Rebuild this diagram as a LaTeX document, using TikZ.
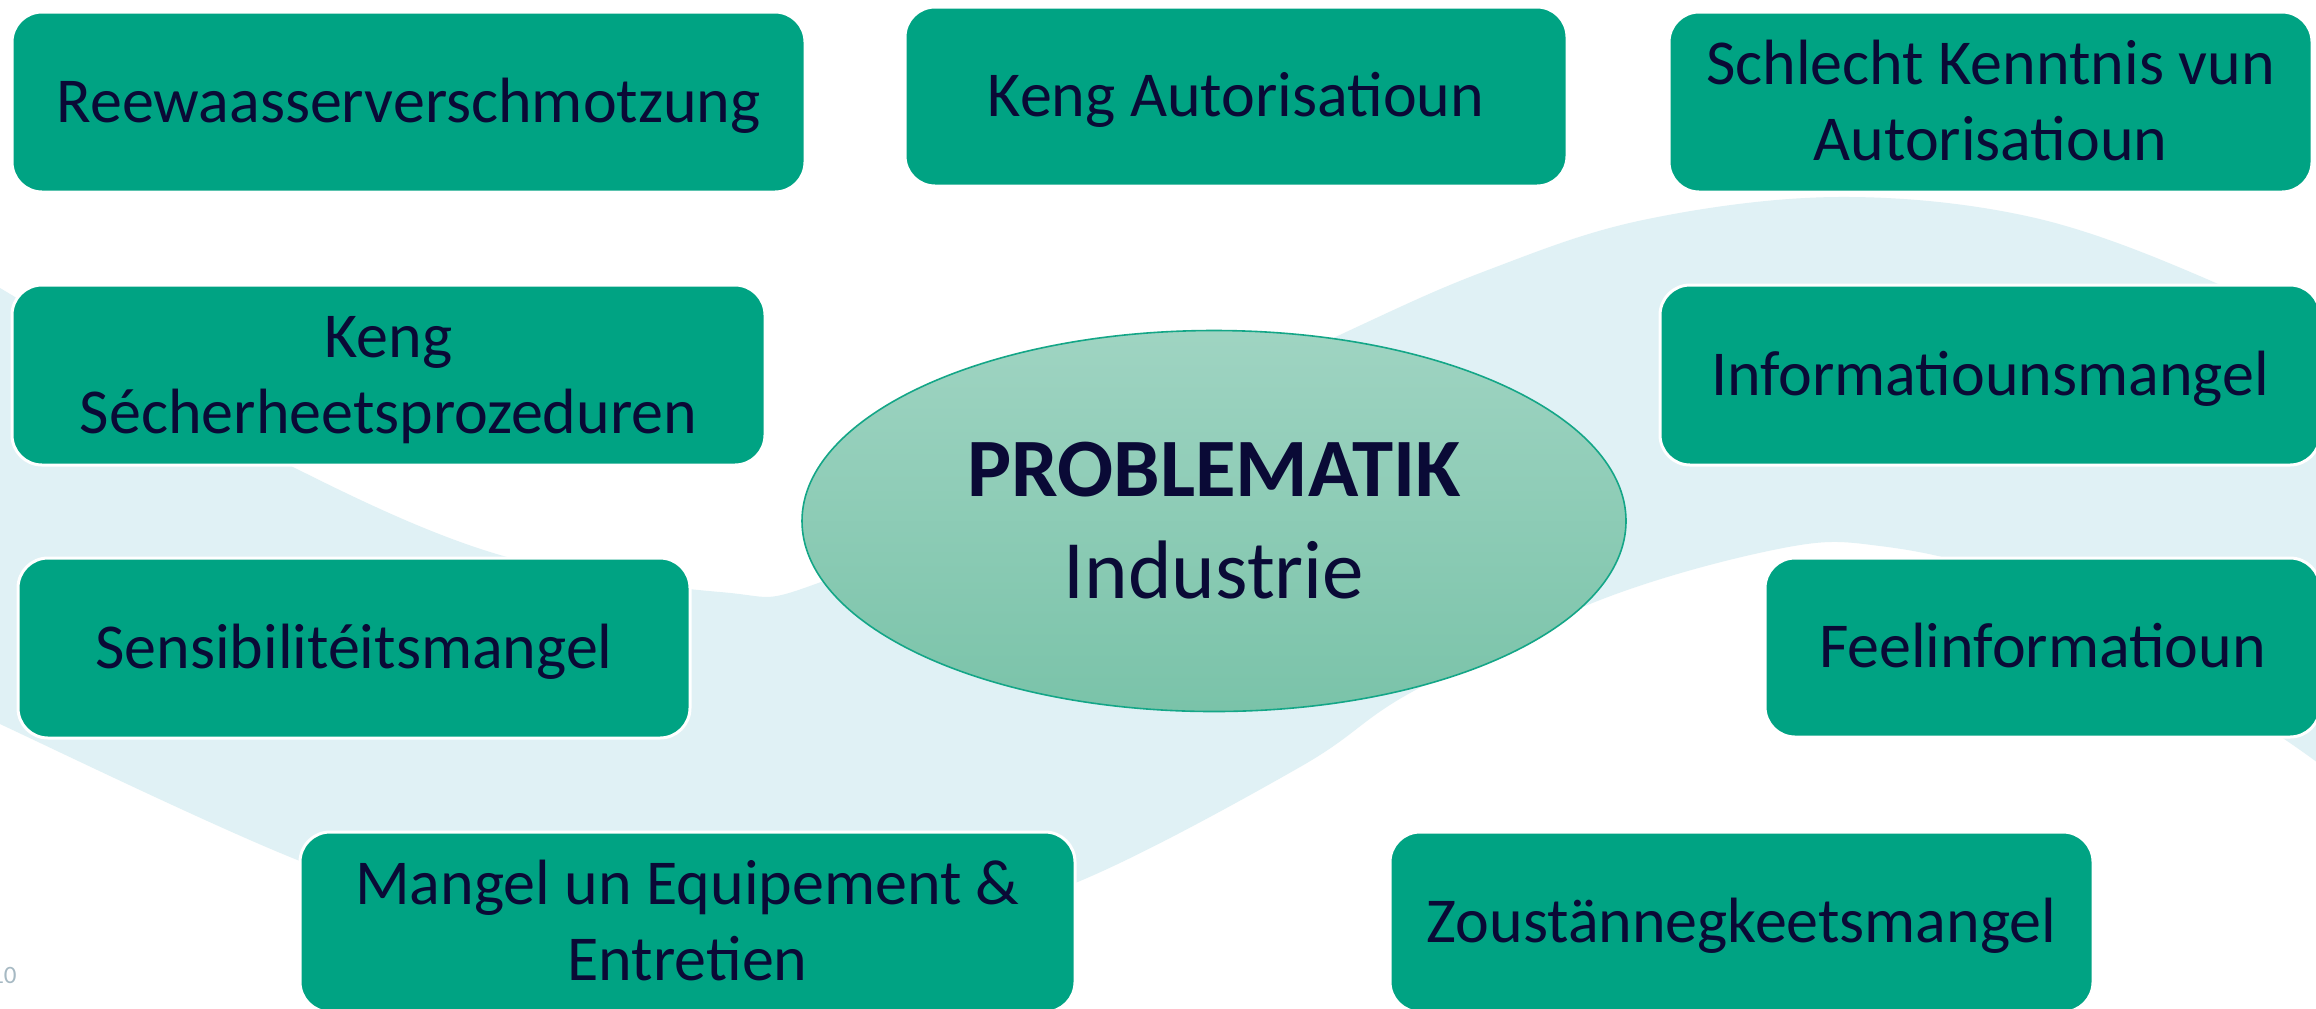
\documentclass[tikz,border=0pt]{standalone}
\usepackage{fontspec}
\setmainfont{Carlito}
\usetikzlibrary{shapes.geometric}
\definecolor{boxgreen}{HTML}{00A383}
\definecolor{navytext}{HTML}{0A0A36}
\definecolor{wavebg}{HTML}{E0F1F5}
\definecolor{elltop}{HTML}{9FD4C2}
\definecolor{ellbot}{HTML}{7AC3A9}
\definecolor{elledge}{HTML}{14A687}
\definecolor{pagenum}{HTML}{A6B9C3}
\newcommand\mystrut{\rule[-0.25em]{0pt}{1.132em}}
\begin{document}
\begin{tikzpicture}[x=0.5pt,y=-0.5pt,
  probbox/.style={rectangle, rounded corners=15pt, fill=boxgreen, draw=white,
    line width=1.5pt, inner sep=0pt, align=center, text=navytext,
    font=\fontsize{32}{38}\selectfont},
  coreell/.style={ellipse, inner sep=0pt, minimum width=412pt, minimum height=190.5pt,
    top color=elltop, bottom color=ellbot, draw=elledge, line width=0.8pt,
    align=center, text=navytext, font=\fontsize{41.5}{51}\selectfont},
  pagelbl/.style={text=pagenum, inner sep=0pt, font=\fontsize{12.5}{15}\selectfont}
]
\useasboundingbox (0,0) rectangle (2316,1008);
\begin{scope}
\clip (0,0) rectangle (2316,1008);
\fill[white] (0,0) rectangle (2316,1008);
% background wave
\fill[wavebg] plot[smooth, tension=0.6] coordinates {(-20,280) (0,288) (150,380) (295,468) (500,555) (720,592) (821,582) (1080,460) (1344,333) (1488,270) (1643,220) (1837,197) (2031,217) (2209,280) (2340,350)}
  -- plot[smooth, tension=0.6] coordinates {(2340,780) (2290,743) (2150,650) (2000,575) (1880,546) (1783,548) (1600,600) (1410,693) (1300,767) (1080,881) (900,935) (690,952) (500,925) (295,859) (0,724) (-20,712)}
  -- cycle;

% boxes
\node[probbox, minimum width=396.5pt, minimum height=90pt] (b1) at (408.5,102) {\mystrut Reewaasserverschmotzung};
\node[probbox, minimum width=331pt, minimum height=89.5pt] (b2) at (1236,96.5) {\mystrut Keng Autorisatioun};
\node[probbox, minimum width=321.5pt, minimum height=90pt] (b3) at (1990.5,102) {\mystrut Schlecht Kenntnis vun\\\mystrut Autorisatioun};
\node[probbox, minimum width=376.5pt, minimum height=90pt] (b4) at (388.5,375) {\mystrut Keng\\\mystrut Sécherheetsprozeduren};
\node[probbox, minimum width=336pt, minimum height=90pt] (b5) at (354,648) {\mystrut Sensibilitéitsmangel};
\node[probbox, minimum width=330pt, minimum height=90pt] (b6) at (1990,375) {\mystrut Informatiounsmangel};
\node[probbox, minimum width=277.5pt, minimum height=89.5pt] (b7) at (2042.5,647.5) {\mystrut Feelinformatioun};
\node[probbox, minimum width=387.5pt, minimum height=90pt] (b8) at (687.5,922) {\mystrut Mangel un Equipement \&\\\mystrut Entretien};
\node[probbox, minimum width=351.5pt, minimum height=90pt] (b9) at (1741.5,922) {\mystrut Zoustännegkeetsmangel};

% centre ellipse
\node[coreell] (core) at (1214,521) {\mystrut\textbf{PROBLEMATIK}\\\mystrut Industrie};

% page number
\node[pagelbl, anchor=base east] (pnum) at (17,983) {10};
\end{scope}
\end{tikzpicture}
\end{document}
